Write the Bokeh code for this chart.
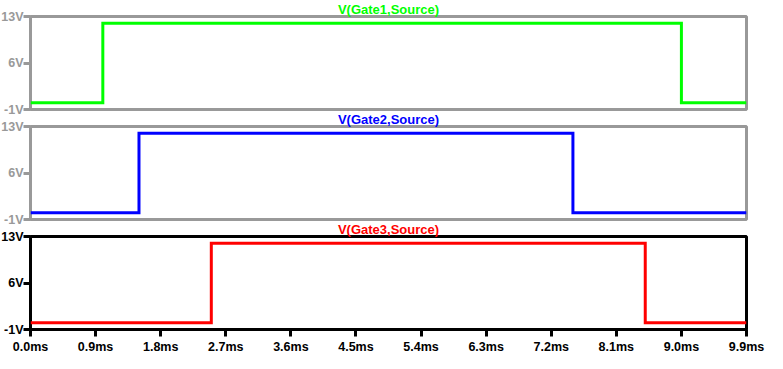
from bokeh.plotting import figure
from bokeh.layouts import column
from bokeh.models import Range1d, Title
from bokeh.embed import file_html
from bokeh.resources import INLINE

# ---- data ----
titles = ["V(Gate1,Source)", "V(Gate2,Source)", "V(Gate3,Source)"]
gate1_t = [0.0, 1.0, 1.0, 9.0, 9.0, 9.9]
gate1_v = [0, 0, 12, 12, 0, 0]
gate2_t = [0.0, 1.5, 1.5, 7.5, 7.5, 9.9]
gate2_v = [0, 0, 12, 12, 0, 0]
gate3_t = [0.0, 2.5, 2.5, 8.5, 8.5, 9.9]
gate3_v = [0, 0, 12, 12, 0, 0]
y_ticks = [-1, 6, 13]
y_tick_labels = ["-1V", "6V", "13V"]
x_ticks = [0.0, 0.9, 1.8, 2.7, 3.6, 4.5, 5.4, 6.3, 7.2, 8.1, 9.0, 9.9]
x_tick_labels = ["0.0ms", "0.9ms", "1.8ms", "2.7ms", "3.6ms", "4.5ms",
                 "5.4ms", "6.3ms", "7.2ms", "8.1ms", "9.0ms", "9.9ms"]

FONT = "Liberation Sans"
GRAY = "#999999"
FRAME_H = 93


def make_panel(t, v, color, title, frame_color, bottom, margin):
    p = figure(frame_width=718, frame_height=FRAME_H,
               x_range=Range1d(0, 9.9), y_range=Range1d(-1, 13),
               output_backend="svg", toolbar_location=None,
               x_axis_location="below" if bottom else None,
               y_axis_location="left",
               min_border_left=31, min_border_right=26, min_border_top=16,
               min_border_bottom=30 if bottom else 8)
    p.margin = margin
    p.grid.visible = False
    p.border_fill_alpha = 0
    p.background_fill_color = "white"
    p.outline_line_color = frame_color
    p.outline_line_width = 3
    p.outline_line_alpha = 1

    p.title = Title(text=title, text_color=color, text_font=FONT,
                    text_font_style="bold", text_font_size="13px",
                    align="center", vertical_align="bottom",
                    standoff=0, offset=0)

    ya = p.yaxis[0]
    ya.ticker = y_ticks
    ya.major_label_overrides = {k: s for k, s in zip(y_ticks, y_tick_labels)}
    ya.axis_line_color = None
    ya.major_tick_in = 0
    ya.major_tick_out = 7
    ya.major_tick_line_width = 3
    ya.major_tick_line_color = frame_color
    ya.minor_tick_line_color = None
    ya.major_label_text_color = frame_color
    ya.major_label_text_font = FONT
    ya.major_label_text_font_style = "bold"
    ya.major_label_text_font_size = "12.5px"
    ya.major_label_standoff = 0

    if bottom:
        xa = p.xaxis[0]
        xa.ticker = x_ticks
        xa.major_label_overrides = {k: s for k, s in zip(x_ticks, x_tick_labels)}
        xa.axis_line_color = None
        xa.major_tick_in = 0
        xa.major_tick_out = 7
        xa.major_tick_line_width = 3
        xa.major_tick_line_color = frame_color
        xa.minor_tick_line_color = None
        xa.major_label_text_color = "black"
        xa.major_label_text_font = FONT
        xa.major_label_text_font_style = "bold"
        xa.major_label_text_font_size = "12.5px"
        xa.major_label_standoff = 3

    p.line(t, v, line_color=color, line_width=3, line_join="miter")
    return p


p1 = make_panel(gate1_t, gate1_v, "#00ff00", titles[0], GRAY, False, (-1, 0, 0, -2))
p2 = make_panel(gate2_t, gate2_v, "#0000ff", titles[1], GRAY, False, (-8, 0, 0, -2))
p3 = make_panel(gate3_t, gate3_v, "#ff0000", titles[2], "black", True, (-8, 0, 0, -2))

layout = column(p1, p2, p3)

open("out.html", "w").write(file_html(layout, INLINE))
